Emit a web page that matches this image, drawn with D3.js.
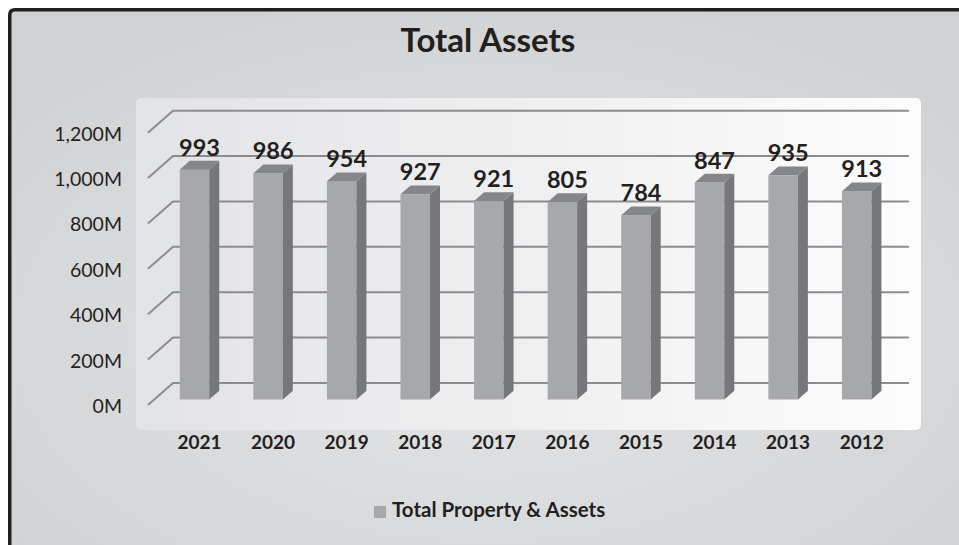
<!DOCTYPE html>
<html lang="en">
<head>
<meta charset="utf-8">
<title>Total Assets</title>
<style>
  html, body { margin: 0; padding: 0; background: #fff; }
  text { font-family: Lato, "Open Sans", sans-serif; fill: #231f20; }
  .title { font: bold 33px Lato, sans-serif; }
  .ytick { font-size: 19.5px; }
  .xtick { font: bold 19px Lato, sans-serif; }
  .val { font: bold 23.5px Lato, sans-serif; }
  .legend { font: bold 20.5px Lato, sans-serif; }
</style>
<script src="https://cdnjs.cloudflare.com/ajax/libs/d3/7.8.5/d3.min.js"></script>
</head>
<body>
<svg width="959" height="545"></svg>
<script>
  // data
  const years = ["2021", "2020", "2019", "2018", "2017", "2016", "2015", "2014", "2013", "2012"];
  // bar heights as drawn (millions)
  const barValues = [1013, 997, 962, 904, 875, 870, 812, 956, 988, 918];
  // data label text shown above each bar
  const labelTexts = ["993", "986", "954", "927", "921", "805", "784", "847", "935", "913"];
  const yTicks = [0, 200, 400, 600, 800, 1000, 1200];
  const seriesName = "Total Property & Assets";

  const svg = d3.select("svg");
  const defs = svg.append("defs");

  // background gradient
  const bg = defs.append("radialGradient").attr("id", "bg")
      .attr("cx", "50%").attr("cy", "60%").attr("r", "65%");
  bg.append("stop").attr("offset", "0%").attr("stop-color", "#e4e5e7");
  bg.append("stop").attr("offset", "100%").attr("stop-color", "#d1d2d4");

  const panel = defs.append("linearGradient").attr("id", "panel")
      .attr("x1", "0%").attr("x2", "100%").attr("y1", "0%").attr("y2", "0%");
  panel.append("stop").attr("offset", "0%").attr("stop-color", "#e2e3e5");
  panel.append("stop").attr("offset", "100%").attr("stop-color", "#fcfcfc");

  svg.append("rect").attr("x", 9.75).attr("y", 9.75)
      .attr("width", 959).attr("height", 545).attr("fill", "url(#bg)");
  svg.append("path")
      .attr("d", "M9.75,545 V15 Q9.75,9.75 15,9.75 H959")
      .attr("fill", "none").attr("stroke", "#231f20").attr("stroke-width", 3.5);

  svg.append("text").attr("class", "title")
      .attr("x", 488).attr("y", 52).attr("text-anchor", "middle")
      .text("Total Assets");

  // plot panel
  svg.append("rect").attr("x", 136).attr("y", 98).attr("width", 785).attr("height", 332)
      .attr("rx", 5).attr("fill", "url(#panel)");

  // 3d geometry: front plane z=0, back wall z=1
  const depth = { dx: 25, dy: -22 };
  const y = d3.scaleLinear().domain([0, 1200]).range([405, 132.7]);
  const x = d3.scalePoint().domain(years).range([194.5, 856.7]);
  const frontX = 148, backRight = 909;
  const barZ = 0.25, barDepth = 0.4, barW = 29.5;

  const grid = svg.append("g").attr("stroke", "#8b8c8e").attr("stroke-width", 2).attr("fill", "none");
  grid.selectAll("path").data(yTicks).join("path")
      .attr("d", d => `M${frontX},${y(d)} L${frontX + depth.dx},${y(d) + depth.dy} H${backRight}`);

  svg.append("g").selectAll("text").data(yTicks).join("text")
      .attr("class", "ytick")
      .attr("x", 122).attr("y", d => y(d) + 3)
      .attr("text-anchor", "end").attr("dominant-baseline", "middle")
      .text(d => d3.format(",")(d) + "M");

  // bars
  const by = barZ * depth.dy;
  const sx = barDepth * depth.dx, sy = barDepth * depth.dy;
  const bars = svg.append("g").selectAll("g").data(years.map((yr, i) => ({ yr, v: barValues[i], label: labelTexts[i] })))
      .join("g");

  bars.append("rect")
      .attr("x", d => x(d.yr) - barW / 2)
      .attr("y", d => y(d.v) + by)
      .attr("width", barW)
      .attr("height", d => y(0) - y(d.v))
      .attr("fill", "#a7a8ab");

  bars.append("path")
      .attr("fill", "#76777a")
      .attr("d", d => {
        const xr = x(d.yr) + barW / 2, t = y(d.v) + by, b = y(0) + by;
        return `M${xr},${t} L${xr + sx},${t + sy} L${xr + sx},${b + sy} L${xr},${b} Z`;
      });

  bars.append("path")
      .attr("fill", "#858689")
      .attr("d", d => {
        const xl = x(d.yr) - barW / 2, xr = x(d.yr) + barW / 2, t = y(d.v) + by;
        return `M${xl},${t} L${xl + sx},${t + sy} L${xr + sx},${t + sy} L${xr},${t} Z`;
      });

  bars.append("text").attr("class", "val")
      .attr("x", d => x(d.yr) + 5)
      .attr("y", d => y(d.v) + by - 14)
      .attr("text-anchor", "middle")
      .text(d => d.label);

  svg.append("g").selectAll("text").data(years).join("text")
      .attr("class", "xtick")
      .attr("x", d => x(d) + 5).attr("y", 444)
      .attr("text-anchor", "middle").attr("dominant-baseline", "middle")
      .text(d => d);

  // legend
  svg.append("rect").attr("x", 374).attr("y", 506).attr("width", 12).attr("height", 12).attr("fill", "#a7a8ab");
  svg.append("text").attr("class", "legend")
      .attr("x", 392).attr("y", 512).attr("dominant-baseline", "middle")
      .text(seriesName);
</script>
</body>
</html>
